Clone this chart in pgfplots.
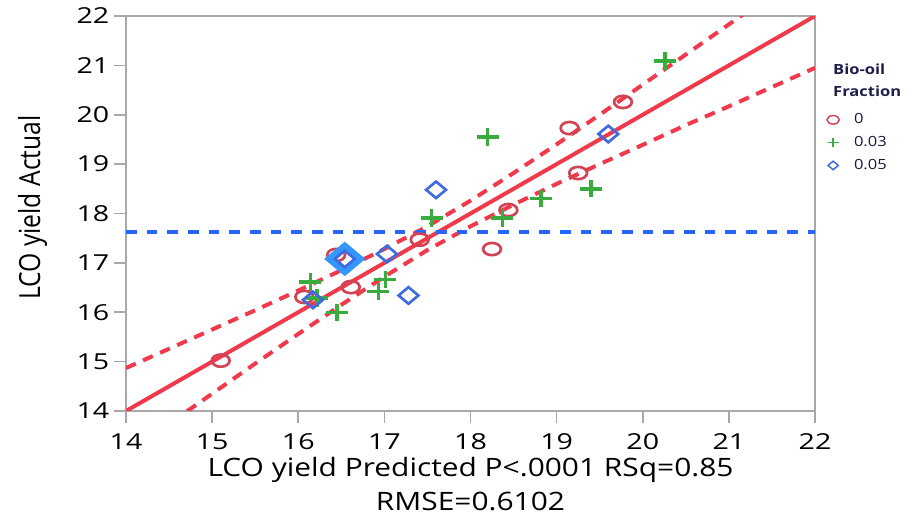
\documentclass[border=0pt]{standalone}
\usepackage{fontspec}
\setmainfont{Open Sans}[FakeStretch=1.18]
\newfontfamily\tickfont{Open Sans}[FakeStretch=1.3]
\newfontfamily\plainfont{Open Sans}
\usepackage{pgfplots}
\pgfplotsset{compat=1.18}
\definecolor{fitred}{RGB}{240,58,76}
\definecolor{circred}{RGB}{208,68,84}
\definecolor{pgreen}{RGB}{58,172,62}
\definecolor{dblue}{RGB}{62,108,224}
\definecolor{hblue}{RGB}{52,150,255}
\definecolor{meanblue}{RGB}{40,102,255}
\definecolor{axgray}{RGB}{168,168,168}
\definecolor{legtitle}{RGB}{30,30,75}
\begin{document}
\begin{tikzpicture}
\path[use as bounding box] (0,0) rectangle (691.5pt,387pt);
\begin{axis}[
  at={(94.5pt,78.75pt)}, anchor=south west,
  scale only axis, width=516.75pt, height=296.25pt,
  xmin=14, xmax=22, ymin=14, ymax=22,
  xtick={14,...,22}, ytick={14,...,22},
  tick align=outside, tick pos=left,
  major tick length=9pt,
  axis line style={draw=axgray, line width=1.2pt},
  major tick style={draw=axgray, line width=1.2pt},
  /pgf/number format/assume math mode=true,
  ticklabel style={font=\tickfont\fontsize{16.5}{19}\selectfont},
  xticklabel style={yshift=-4.5pt},
  xlabel={LCO yield Predicted P<.0001 RSq=0.85\\RMSE=0.6102},
  xlabel style={at={(axis description cs:0.5,-0.117)}, anchor=north, align=center, inner sep=0pt,
    font=\fontsize{19}{25}\selectfont},
  ylabel={LCO yield Actual},
  ylabel style={at={(axis description cs:-0.1357,0.515)}, anchor=center, inner sep=0pt,
    yscale=1.18, font=\plainfont\fontsize{18.5}{22}\selectfont},
  legend style={at={(axis description cs:1.017,0.76)}, anchor=north west, draw=none, fill=none,
    font=\fontsize{10.5}{12}\selectfont, row sep=4pt, inner sep=0pt, text=legtitle!80!black},
  legend cell align=left,
  legend image post style={mark size=3.2pt, line width=1.1pt},
  clip mode=individual,
]
% fit line and confidence curves
\addplot[forget plot, fitred, line width=3pt] coordinates {(14,14) (22,22)};
\addplot[forget plot, fitred, line width=3pt, dash pattern=on 8pt off 6pt] coordinates {
(14,14.87) (14.5,15.26) (15,15.65) (15.5,16.04) (16,16.44) (16.5,16.85) (17,17.28) (17.5,17.74)
(18,18.26) (18.5,18.82) (19,19.40) (19.5,20.00) (20,20.61) (20.5,21.22) (21,21.83) (21.5,22.44) (22,23.05)};
\addplot[forget plot, fitred, line width=3pt, dash pattern=on 8pt off 6pt] coordinates {
(14,13.13) (14.5,13.74) (15,14.35) (15.5,14.96) (16,15.56) (16.5,16.15) (17,16.72) (17.5,17.26)
(18,17.74) (18.5,18.18) (19,18.60) (19.5,19.00) (20,19.39) (20.5,19.79) (21,20.17) (21.5,20.56) (22,20.95)};
\addplot[forget plot, meanblue, line width=3pt, dash pattern=on 8pt off 7.5pt] coordinates {(14,17.62) (22,17.62)};
% data
\addplot[only marks, mark=o, circred, line width=2pt, mark size=4.6pt, mark options={xscale=1.45}] coordinates {
(15.10,15.02) (16.07,16.31) (16.44,17.16) (16.61,16.51) (17.41,17.47) (18.25,17.28) (18.44,18.07)
(19.25,18.82) (19.15,19.73) (19.77,20.26)};
\addlegendentry{\hspace{9pt}0}
\addplot[only marks, mark=+, pgreen, line width=2.6pt, mark size=6.5pt, mark options={xscale=1.27}] coordinates {
(20.26,21.09) (18.20,19.55) (18.82,18.30) (19.40,18.50) (18.37,17.91) (17.55,17.91) (16.14,16.61)
(16.22,16.29) (16.45,15.99) (16.93,16.42) (17.01,16.66)};
\addlegendentry{\hspace{9pt}0.03}
\addplot[forget plot, only marks, mark=diamond, hblue, line width=4.5pt, mark size=10pt, mark options={xscale=1.6}] coordinates {(16.54,17.08)};
\addplot[only marks, mark=diamond, dblue, line width=2pt, mark size=6.2pt, mark options={xscale=1.6}] coordinates {
(19.60,19.61) (17.60,18.48) (17.03,17.18) (17.28,16.34) (16.17,16.25) (16.54,17.08)};
\addlegendentry{\hspace{9pt}0.05}
\node[anchor=north west, align=left, inner sep=0pt, text=legtitle, font=\bfseries\fontsize{10.5}{17}\selectfont]
  at (axis description cs:1.026,0.88) {Bio-oil\\Fraction};
\end{axis}
\end{tikzpicture}
\end{document}
